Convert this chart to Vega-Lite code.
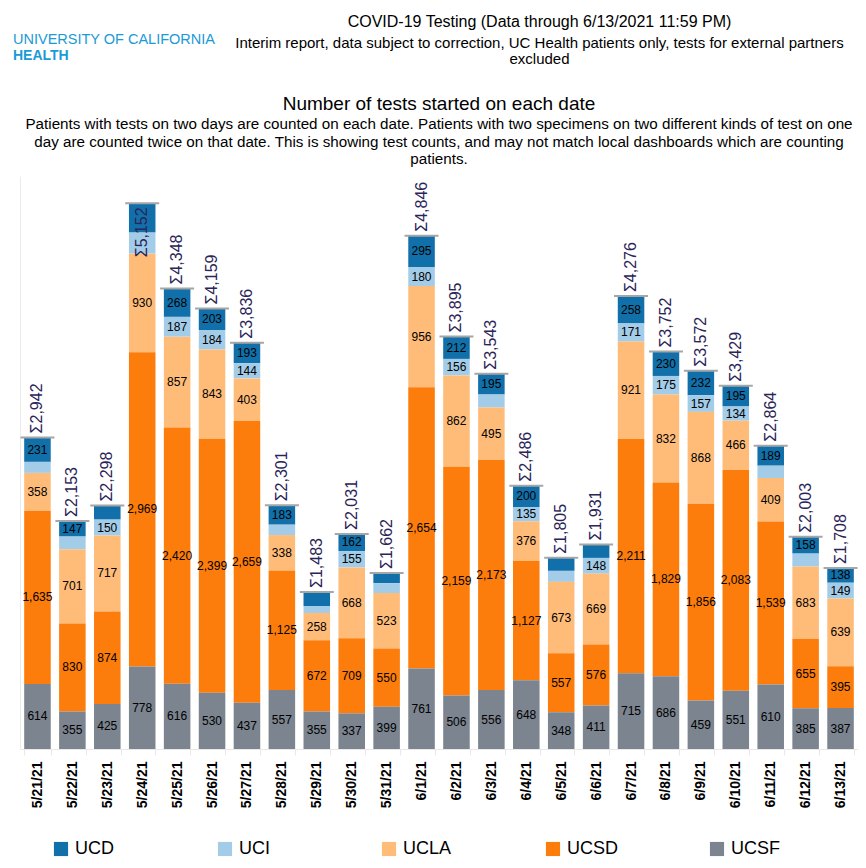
{
  "$schema": "https://vega.github.io/schema/vega-lite/v6.json",
  "background": "white",
  "padding": {"left": 13, "top": 14, "right": 5, "bottom": 5},
  "config": {
    "view": {"stroke": null},
    "font": "Liberation Sans",
    "concat": {"spacing": 0}
  },
  "title": {
    "text": "UNIVERSITY OF CALIFORNIA",
    "subtitle": "HEALTH",
    "anchor": "start",
    "fontSize": 14.5,
    "fontWeight": "normal",
    "color": "#1a9ad6",
    "subtitleColor": "#1a9ad6",
    "subtitleFontSize": 14,
    "subtitleFontWeight": "bold",
    "subtitlePadding": 2,
    "dy": 10,
    "offset": -40
  },
  "vconcat": [
    {
      "title": {
        "text": "COVID-19 Testing (Data through 6/13/2021 11:59 PM)",
        "subtitle": [
          "Interim report, data subject to correction, UC Health patients only, tests for external partners",
          "excluded"
        ],
        "anchor": "middle",
        "dx": 104,
        "fontSize": 16,
        "fontWeight": "normal",
        "color": "black",
        "subtitleFontSize": 15,
        "subtitleColor": "black",
        "subtitleLineHeight": 16,
        "subtitlePadding": 6,
        "offset": 28
      },
      "vconcat": [
        {
          "width": 838,
          "height": 573,
          "title": {
            "text": "Number of tests started on each date",
            "subtitle": [
              "Patients with tests on two days are counted on each date. Patients with two specimens on two different kinds of test on one",
              "day are counted twice on that date.  This is showing test counts, and may not match local dashboards which are counting",
              "patients."
            ],
            "anchor": "middle",
            "fontSize": 19,
            "fontWeight": "normal",
            "color": "black",
            "subtitleFontSize": 15.2,
            "subtitleColor": "black",
            "subtitleLineHeight": 17.2,
            "subtitlePadding": 3,
            "offset": 9
          },
          "data": {
            "values": [
              {"date": "5/21/21", "site": "UCD", "value": 231}, {"date": "5/21/21", "site": "UCI", "value": 104}, {"date": "5/21/21", "site": "UCLA", "value": 358}, {"date": "5/21/21", "site": "UCSD", "value": 1635}, {"date": "5/21/21", "site": "UCSF", "value": 614},
              {"date": "5/22/21", "site": "UCD", "value": 147}, {"date": "5/22/21", "site": "UCI", "value": 120}, {"date": "5/22/21", "site": "UCLA", "value": 701}, {"date": "5/22/21", "site": "UCSD", "value": 830}, {"date": "5/22/21", "site": "UCSF", "value": 355},
              {"date": "5/23/21", "site": "UCD", "value": 132}, {"date": "5/23/21", "site": "UCI", "value": 150}, {"date": "5/23/21", "site": "UCLA", "value": 717}, {"date": "5/23/21", "site": "UCSD", "value": 874}, {"date": "5/23/21", "site": "UCSF", "value": 425},
              {"date": "5/24/21", "site": "UCD", "value": 276}, {"date": "5/24/21", "site": "UCI", "value": 199}, {"date": "5/24/21", "site": "UCLA", "value": 930}, {"date": "5/24/21", "site": "UCSD", "value": 2969}, {"date": "5/24/21", "site": "UCSF", "value": 778},
              {"date": "5/25/21", "site": "UCD", "value": 268}, {"date": "5/25/21", "site": "UCI", "value": 187}, {"date": "5/25/21", "site": "UCLA", "value": 857}, {"date": "5/25/21", "site": "UCSD", "value": 2420}, {"date": "5/25/21", "site": "UCSF", "value": 616},
              {"date": "5/26/21", "site": "UCD", "value": 203}, {"date": "5/26/21", "site": "UCI", "value": 184}, {"date": "5/26/21", "site": "UCLA", "value": 843}, {"date": "5/26/21", "site": "UCSD", "value": 2399}, {"date": "5/26/21", "site": "UCSF", "value": 530},
              {"date": "5/27/21", "site": "UCD", "value": 193}, {"date": "5/27/21", "site": "UCI", "value": 144}, {"date": "5/27/21", "site": "UCLA", "value": 403}, {"date": "5/27/21", "site": "UCSD", "value": 2659}, {"date": "5/27/21", "site": "UCSF", "value": 437},
              {"date": "5/28/21", "site": "UCD", "value": 183}, {"date": "5/28/21", "site": "UCI", "value": 98}, {"date": "5/28/21", "site": "UCLA", "value": 338}, {"date": "5/28/21", "site": "UCSD", "value": 1125}, {"date": "5/28/21", "site": "UCSF", "value": 557},
              {"date": "5/29/21", "site": "UCD", "value": 132}, {"date": "5/29/21", "site": "UCI", "value": 66}, {"date": "5/29/21", "site": "UCLA", "value": 258}, {"date": "5/29/21", "site": "UCSD", "value": 672}, {"date": "5/29/21", "site": "UCSF", "value": 355},
              {"date": "5/30/21", "site": "UCD", "value": 162}, {"date": "5/30/21", "site": "UCI", "value": 155}, {"date": "5/30/21", "site": "UCLA", "value": 668}, {"date": "5/30/21", "site": "UCSD", "value": 709}, {"date": "5/30/21", "site": "UCSF", "value": 337},
              {"date": "5/31/21", "site": "UCD", "value": 97}, {"date": "5/31/21", "site": "UCI", "value": 93}, {"date": "5/31/21", "site": "UCLA", "value": 523}, {"date": "5/31/21", "site": "UCSD", "value": 550}, {"date": "5/31/21", "site": "UCSF", "value": 399},
              {"date": "6/1/21", "site": "UCD", "value": 295}, {"date": "6/1/21", "site": "UCI", "value": 180}, {"date": "6/1/21", "site": "UCLA", "value": 956}, {"date": "6/1/21", "site": "UCSD", "value": 2654}, {"date": "6/1/21", "site": "UCSF", "value": 761},
              {"date": "6/2/21", "site": "UCD", "value": 212}, {"date": "6/2/21", "site": "UCI", "value": 156}, {"date": "6/2/21", "site": "UCLA", "value": 862}, {"date": "6/2/21", "site": "UCSD", "value": 2159}, {"date": "6/2/21", "site": "UCSF", "value": 506},
              {"date": "6/3/21", "site": "UCD", "value": 195}, {"date": "6/3/21", "site": "UCI", "value": 124}, {"date": "6/3/21", "site": "UCLA", "value": 495}, {"date": "6/3/21", "site": "UCSD", "value": 2173}, {"date": "6/3/21", "site": "UCSF", "value": 556},
              {"date": "6/4/21", "site": "UCD", "value": 200}, {"date": "6/4/21", "site": "UCI", "value": 135}, {"date": "6/4/21", "site": "UCLA", "value": 376}, {"date": "6/4/21", "site": "UCSD", "value": 1127}, {"date": "6/4/21", "site": "UCSF", "value": 648},
              {"date": "6/5/21", "site": "UCD", "value": 123}, {"date": "6/5/21", "site": "UCI", "value": 104}, {"date": "6/5/21", "site": "UCLA", "value": 673}, {"date": "6/5/21", "site": "UCSD", "value": 557}, {"date": "6/5/21", "site": "UCSF", "value": 348},
              {"date": "6/6/21", "site": "UCD", "value": 127}, {"date": "6/6/21", "site": "UCI", "value": 148}, {"date": "6/6/21", "site": "UCLA", "value": 669}, {"date": "6/6/21", "site": "UCSD", "value": 576}, {"date": "6/6/21", "site": "UCSF", "value": 411},
              {"date": "6/7/21", "site": "UCD", "value": 258}, {"date": "6/7/21", "site": "UCI", "value": 171}, {"date": "6/7/21", "site": "UCLA", "value": 921}, {"date": "6/7/21", "site": "UCSD", "value": 2211}, {"date": "6/7/21", "site": "UCSF", "value": 715},
              {"date": "6/8/21", "site": "UCD", "value": 230}, {"date": "6/8/21", "site": "UCI", "value": 175}, {"date": "6/8/21", "site": "UCLA", "value": 832}, {"date": "6/8/21", "site": "UCSD", "value": 1829}, {"date": "6/8/21", "site": "UCSF", "value": 686},
              {"date": "6/9/21", "site": "UCD", "value": 232}, {"date": "6/9/21", "site": "UCI", "value": 157}, {"date": "6/9/21", "site": "UCLA", "value": 868}, {"date": "6/9/21", "site": "UCSD", "value": 1856}, {"date": "6/9/21", "site": "UCSF", "value": 459},
              {"date": "6/10/21", "site": "UCD", "value": 195}, {"date": "6/10/21", "site": "UCI", "value": 134}, {"date": "6/10/21", "site": "UCLA", "value": 466}, {"date": "6/10/21", "site": "UCSD", "value": 2083}, {"date": "6/10/21", "site": "UCSF", "value": 551},
              {"date": "6/11/21", "site": "UCD", "value": 189}, {"date": "6/11/21", "site": "UCI", "value": 117}, {"date": "6/11/21", "site": "UCLA", "value": 409}, {"date": "6/11/21", "site": "UCSD", "value": 1539}, {"date": "6/11/21", "site": "UCSF", "value": 610},
              {"date": "6/12/21", "site": "UCD", "value": 158}, {"date": "6/12/21", "site": "UCI", "value": 122}, {"date": "6/12/21", "site": "UCLA", "value": 683}, {"date": "6/12/21", "site": "UCSD", "value": 655}, {"date": "6/12/21", "site": "UCSF", "value": 385},
              {"date": "6/13/21", "site": "UCD", "value": 138}, {"date": "6/13/21", "site": "UCI", "value": 149}, {"date": "6/13/21", "site": "UCLA", "value": 639}, {"date": "6/13/21", "site": "UCSD", "value": 395}, {"date": "6/13/21", "site": "UCSF", "value": 387}
            ]
          },
          "transform": [
            {"stack": "value", "groupby": ["date"], "sort": [{"field": "site", "order": "descending"}], "as": ["y0", "y1"]},
            {"joinaggregate": [{"op": "sum", "field": "value", "as": "total"}], "groupby": ["date"]},
            {"calculate": "(datum.y0 + datum.y1) / 2", "as": "mid"},
            {"calculate": "'Σ' + format(datum.total, ',')", "as": "totalLabel"}
          ],
          "encoding": {
            "x": {
              "field": "date",
              "type": "ordinal",
              "sort": null,
              "scale": {"paddingInner": 0.24, "paddingOuter": 0.12},
              "axis": {
                "title": null,
                "labelAngle": 270,
                "labelAlign": "right",
                "labelBaseline": "middle",
                "labelFontWeight": "bold",
                "labelFontSize": 14,
                "labelColor": "black",
                "labelPadding": 6,
                "domainColor": "#e8e8e8",
                "tickColor": "#e8e8e8",
                "tickBand": "extent",
                "tickSize": 6
              }
            }
          },
          "layer": [
            {
              "mark": {"type": "bar"},
              "encoding": {
                "y": {
                  "field": "y1",
                  "type": "quantitative",
                  "scale": {"domain": [0, 5410], "nice": false},
                  "axis": {"title": null, "labels": false, "ticks": false, "grid": false, "domainColor": "#ececec", "minExtent": 0, "maxExtent": 0}
                },
                "y2": {"field": "y0"},
                "color": {
                  "field": "site",
                  "type": "nominal",
                  "scale": {
                    "domain": ["UCD", "UCI", "UCLA", "UCSD", "UCSF"],
                    "range": ["#1170aa", "#a3cce9", "#ffbc79", "#fc7d0b", "#7b848f"]
                  },
                  "legend": {
                    "title": null,
                    "orient": "none",
                    "legendX": 32,
                    "legendY": 664,
                    "direction": "horizontal",
                    "columns": 5,
                    "gridAlign": "all",
                    "columnPadding": 89,
                    "symbolType": "square",
                    "symbolSize": 200,
                    "symbolStrokeWidth": 0,
                    "symbolOpacity": 1,
                    "labelFontSize": 18,
                    "labelColor": "black",
                    "labelOffset": 5
                  }
                }
              }
            },
            {
              "transform": [{"filter": "datum.value >= 134 && (datum.total < 5000 || datum.value >= 500)"}],
              "mark": {"type": "text", "fontSize": 12, "color": "black", "baseline": "middle", "align": "center"},
              "encoding": {
                "y": {"field": "mid", "type": "quantitative"},
                "text": {"field": "value", "type": "quantitative", "format": ","}
              }
            },
            {
              "transform": [{"filter": "datum.site == 'UCD'"}],
              "mark": {"type": "tick", "color": "#a6a6a6", "thickness": 2, "size": 34, "opacity": 1},
              "encoding": {
                "y": {"field": "total", "type": "quantitative"}
              }
            },
            {
              "transform": [{"filter": "datum.site == 'UCD' && datum.total < 5000"}],
              "mark": {"type": "text", "fontSize": 16, "color": "#2a2458", "angle": 270, "align": "left", "baseline": "middle", "dx": 4},
              "encoding": {
                "y": {"field": "total", "type": "quantitative"},
                "text": {"field": "totalLabel", "type": "nominal"}
              }
            },
            {
              "transform": [{"filter": "datum.site == 'UCD' && datum.total >= 5000"}],
              "mark": {"type": "text", "fontSize": 16, "color": "#2a2458", "angle": 270, "align": "right", "baseline": "middle", "dx": -4},
              "encoding": {
                "y": {"field": "total", "type": "quantitative"},
                "text": {"field": "totalLabel", "type": "nominal"}
              }
            }
          ]
        }
      ]
    }
  ]
}
